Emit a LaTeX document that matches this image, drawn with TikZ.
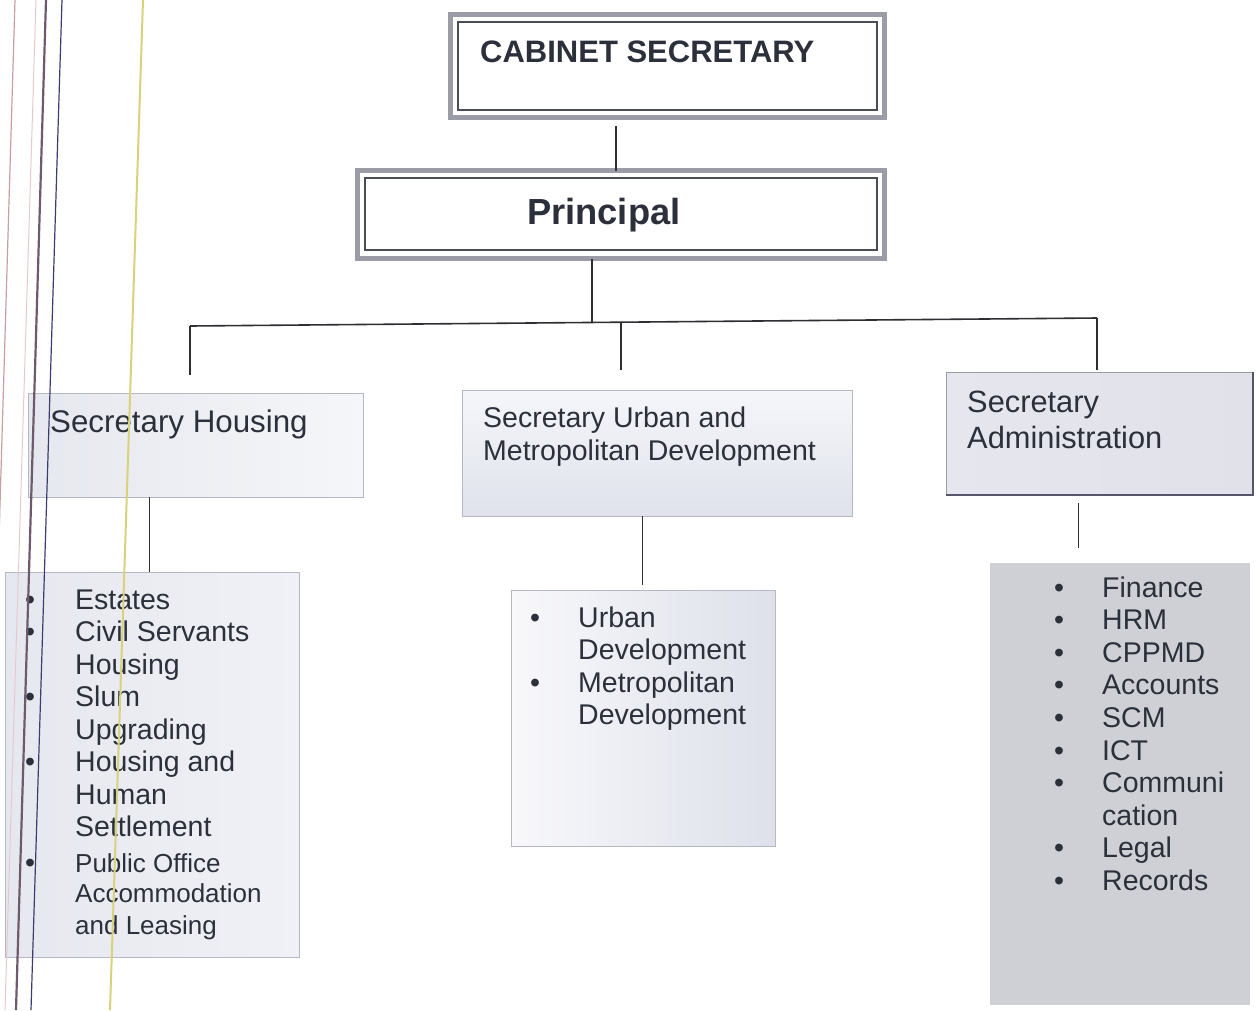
\documentclass[tikz,border=0pt]{standalone}
\usepackage{fontspec}
\setmainfont{Liberation Sans}
\definecolor{txt}{HTML}{2B303A}
\definecolor{band}{HTML}{9A9DA6}
\definecolor{inl}{HTML}{4A4D55}
\definecolor{edge}{HTML}{B4B8C4}
\definecolor{conn}{HTML}{2E2E33}
\definecolor{shL}{HTML}{E6E8EF}
\definecolor{shR}{HTML}{F5F6F9}
\definecolor{suT}{HTML}{F5F6FA}
\definecolor{suB}{HTML}{DFE2EB}
\definecolor{saE}{HTML}{9A9CA8}
\definecolor{saL}{HTML}{E6E7EE}
\definecolor{saR}{HTML}{E0E1E9}
\definecolor{saD}{HTML}{55566A}
\definecolor{hlL}{HTML}{E6E8EF}
\definecolor{hlR}{HTML}{F0F1F6}
\definecolor{ulL}{HTML}{F8F8FB}
\definecolor{ulR}{HTML}{DEE1EA}
\definecolor{alF}{HTML}{CFD0D6}
\definecolor{sc1}{HTML}{C8A0A4}
\definecolor{sc2}{HTML}{E8C8CC}
\definecolor{sc3}{HTML}{6E5A6C}
\definecolor{sc4}{HTML}{3C3C6E}
\definecolor{sc5}{HTML}{D8D27A}
\begin{document}
\begin{tikzpicture}[x=1pt,y=-1pt,
  frameouter/.style={draw=band,line width=5pt,fill=white,inner sep=0pt,outer sep=0pt,anchor=north west},
  frameinner/.style={draw=inl,line width=1.3pt,inner sep=0pt,outer sep=0pt,anchor=north west},
  subbox/.style={draw=edge,line width=0.9pt,inner sep=0pt,outer sep=0pt,anchor=north west},
  lbl/.style={anchor=base west,inner sep=0pt,text=txt},
  fA/.style={font=\fontsize{28.5}{32}\selectfont},
  fB/.style={font=\fontsize{26}{30}\selectfont},
  fH/.style={font=\fontsize{30.8}{34}\selectfont},
  connline/.style={draw=conn,line width=1.2pt}]
\useasboundingbox (0,0) rectangle (1257,1010);
\clip (0,0) rectangle (1257,1010);
\fill[white] (0,0) rectangle (1257,1010);

% ---------- top frames ----------
\node[frameouter,minimum width=434,minimum height=103] (cs) at (450.5,14.5) {};
\node[frameinner,minimum width=419,minimum height=88] (csi) at (458,22) {};
\node[lbl,font=\bfseries\fontsize{31}{34}\selectfont] (cst) at (480,62) {CABINET SECRETARY};

\node[frameouter,minimum width=527,minimum height=88] (pr) at (357.5,170.5) {};
\node[frameinner,minimum width=512,minimum height=72] (pri) at (365,178) {};
\node[lbl,font=\bfseries\fontsize{36.3}{40}\selectfont] (prt) at (527,224) {Principal};

% ---------- second level boxes ----------
\node[subbox,left color=shL,right color=shR,minimum width=335,minimum height=104] (sh) at (28,393) {};
\node[lbl,font=\fontsize{31.3}{34}\selectfont] (sht) at (50,432) {Secretary Housing};

\node[subbox,top color=suT,bottom color=suB,minimum width=390,minimum height=126] (su) at (462,390) {};
\node[lbl,fA] (sut1) at (483,427) {Secretary Urban and};
\node[lbl,fA] (sut2) at (483,460) {Metropolitan Development};

\node[subbox,draw=saE,left color=saL,right color=saR,minimum width=307,minimum height=123] (sa) at (946,372) {};
\draw[draw=saD,line width=2.2pt] (sa.south west) -- (sa.south east) -- (sa.north east);
\node[lbl,fH] (sat1) at (967,412) {Secretary};
\node[lbl,fH] (sat2) at (967,448) {Administration};

% ---------- third level boxes ----------
\node[subbox,left color=hlL,right color=hlR,minimum width=294,minimum height=385] (hl) at (5,572) {};
\node[subbox,left color=ulL,right color=ulR,minimum width=264,minimum height=256] (ul) at (511,590) {};
\node[draw=none,fill=alF,inner sep=0pt,outer sep=0pt,anchor=north west,minimum width=260,minimum height=442] (al) at (990,563) {};

% housing list
\node[lbl,fA] (hb1) at (25,609) {•};
\node[lbl,fA] (hb2) at (25,641.5) {•};
\node[lbl,fA] (hb3) at (25,706.5) {•};
\node[lbl,fA] (hb4) at (25,771.5) {•};
\node[lbl,fA] (hb5) at (25,872) {•};
\node[lbl,fA] (h1) at (75,609) {Estates};
\node[lbl,fA] (h2) at (75,641.5) {Civil Servants};
\node[lbl,fA] (h3) at (75,674) {Housing};
\node[lbl,fA] (h4) at (75,706.5) {Slum};
\node[lbl,fA] (h5) at (75,739) {Upgrading};
\node[lbl,fA] (h6) at (75,771.5) {Housing and};
\node[lbl,fA] (h7) at (75,804) {Human};
\node[lbl,fA] (h8) at (75,836.5) {Settlement};
\node[lbl,fB] (h9) at (75,872) {Public Office};
\node[lbl,fB] (h10) at (75,902) {Accommodation};
\node[lbl,fB] (h11) at (75,934) {and Leasing};

% urban list
\node[lbl,fA] (ub1) at (530,627) {•};
\node[lbl,fA] (ub2) at (530,692) {•};
\node[lbl,fA] (u1) at (578,627) {Urban};
\node[lbl,fA] (u2) at (578,659.5) {Development};
\node[lbl,fA] (u3) at (578,692) {Metropolitan};
\node[lbl,fA] (u4) at (578,724.5) {Development};

% admin list
\foreach \yy/\tt/\bb [count=\i] in {597/Finance/1,629.6/HRM/1,662.2/CPPMD/1,694.8/Accounts/1,727.4/SCM/1,760/ICT/1,792.6/Communi/1,825.2/cation/0,857.8/Legal/1,890.4/Records/1}{
  \node[lbl,fA] (a\i) at (1102,\yy) {\tt};
  \ifnum\bb=1 \node[lbl,fA] (ab\i) at (1054,\yy) {•};\fi
}

% ---------- connectors ----------
\coordinate (c616) at (616,0);
\coordinate (c592) at (592,0);
\coordinate (c149) at (149,0);
\coordinate (c642) at (642,0);
\coordinate (c1078) at (1078,0);
\coordinate (bL) at (190,326);
\coordinate (bP) at (592,322.5);
\coordinate (bU) at (621,322.2);
\coordinate (bR) at (1097,318);
\coordinate (dL) at (190,375);
\coordinate (dU) at (621,370);
\coordinate (dR) at (1097,370);
\coordinate (eU) at (642,585);
\coordinate (eA) at (1078,548);

\draw[connline,shorten <=8pt] (cs.south -| c616) -- (pr.north -| c616);
\draw[connline] (pr.south -| c592) -- (bP);
\draw[connline,line width=1.6pt] (bL) -- (bR);
\draw[connline] (bL) -- (dL);
\draw[connline] (bU) -- (dU);
\draw[connline] (bR) -- (dR);
\draw[connline,line width=0.8pt] (sh.south -| c149) -- (hl.north -| c149);
\draw[connline,line width=0.8pt] (su.south -| c642) -- (eU);
\draw[connline,line width=0.8pt,shorten <=8pt] (sa.south -| c1078) -- (eA);

% ---------- scanner streaks at left edge ----------
\draw[sc1,line width=1.2pt] (15,0) -- (-15,1010);
\draw[sc2,line width=1pt] (36,0) -- (5,1010);
\draw[sc3,line width=2.2pt] (46,0) -- (16,1010);
\draw[sc4,line width=1.2pt] (62,0) -- (31,1010);
\draw[sc5,line width=2pt] (143,0) -- (110,1010);
\end{tikzpicture}
\end{document}
